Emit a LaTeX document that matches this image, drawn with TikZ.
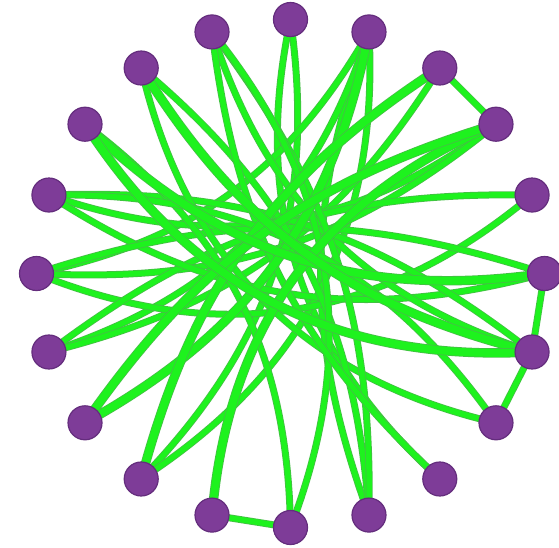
\documentclass[tikz,border=0pt]{standalone}
\usetikzlibrary{calc,backgrounds}
\definecolor{edgegreen}{RGB}{30,242,30}
\definecolor{edgeborder}{RGB}{70,190,70}
\definecolor{nodepurple}{RGB}{126,60,152}
\definecolor{nodeborder}{RGB}{100,45,125}
\tikzset{
  vert/.style={circle,fill=nodepurple,draw=nodeborder,line width=0.6pt,minimum size=17pt,inner sep=0pt},
  edge/.style={draw=edgegreen,line width=2.7pt,line cap=round,preaction={draw=edgeborder,line width=3.5pt}},
  thickedge/.style={draw=edgegreen,line width=3.9pt,line cap=round,preaction={draw=edgeborder,line width=4.7pt}}
}
\begin{document}
\begin{tikzpicture}[x=0.5pt,y=-0.5pt]
\useasboundingbox (0,0) rectangle (559,548);
\coordinate (C) at (290.5,273.5);
\foreach \k in {0,...,19}{
  \node[vert] (n\k) at ($(C)+(18*\k-90:254)$) {};
}
\begin{pgfonlayer}{background}
% short arcs between neighbours
\foreach \a/\b in {2/3,5/6,6/7,10/11}
  \draw[edge] (n\a.center) -- (n\b.center);
% thin chords (bent toward the centre, by varying amounts)
\foreach \a/\b/\t in {12/0/26,0/8/30,15/1/24,1/9/20,12/1/30,14/1/27,14/2/22,16/3/28,15/3/21,15/4/31,4/14/19,16/5/24,5/15/18,19/6/27,6/16/20,18/7/32,9/18/23,9/19/19,10/19/30,10/17/26,19/8/20,7/16/28}
  \draw[edge] (n\a.center) to[bend right=\t] (n\b.center);
% thick chords
\foreach \a/\b/\t in {13/1/25,2/12/21,3/11/31,3/13/19,17/5/26,18/6/22,17/6/30}
  \draw[thickedge] (n\a.center) to[bend right=\t] (n\b.center);
\end{pgfonlayer}
\end{tikzpicture}
\end{document}
